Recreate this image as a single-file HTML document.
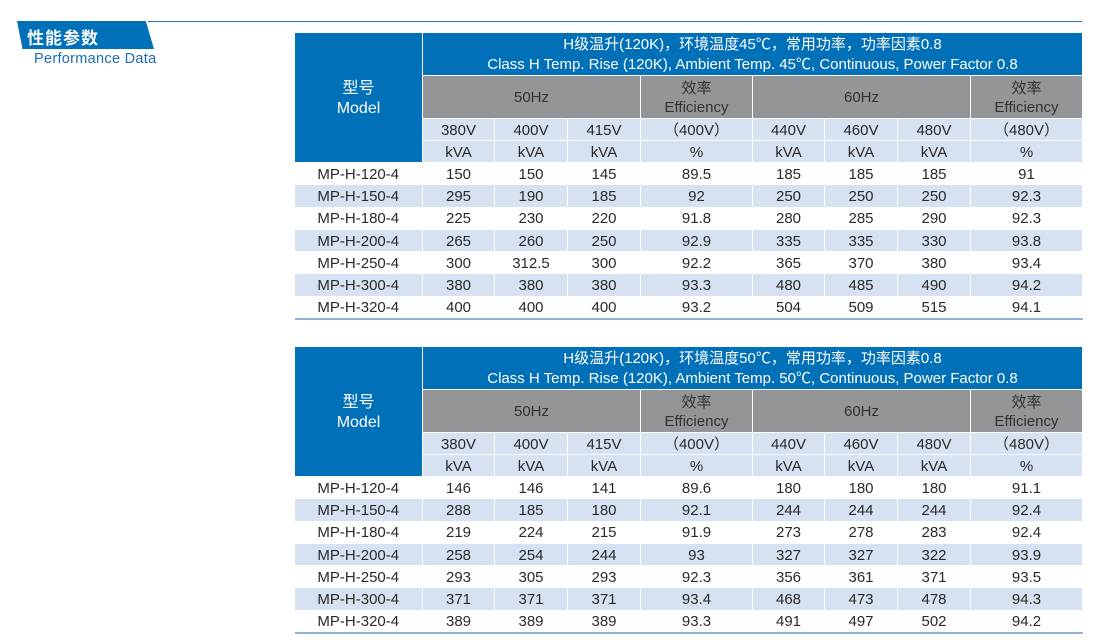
<!DOCTYPE html>
<html><head><meta charset="utf-8"><style>
body{margin:0;width:1103px;height:640px;background:#fff;position:relative;overflow:hidden;font-family:"Liberation Sans","Noto Sans CJK SC",sans-serif;}
.line{position:absolute;left:148px;top:21px;width:934px;height:1px;background:#2a6fb0;}
.badge{position:absolute;left:17px;top:21px;width:137px;height:28px;background:#0070b8;clip-path:polygon(0 0,94% 0,100% 100%,4% 100%);}
.bt{position:absolute;left:27px;top:24px;color:#fff;font-size:17px;font-weight:bold;letter-spacing:1px;}
.sub{position:absolute;left:34px;top:51px;color:#1a6db5;font-size:14.5px;letter-spacing:0.3px;}
table{position:absolute;left:294px;border-collapse:collapse;table-layout:fixed;width:788px;font-size:15px;color:#2a2a2a;}
td{text-align:center;padding:2px 0 0 0;border:1px solid #fff;line-height:16px;overflow:hidden;white-space:nowrap;box-sizing:border-box;}
.b{background:#0070b8;color:#fff;}
.g{background:#939598;color:#333;}
.l{background:#d6e1f1;}
.w{background:#fff;}
tr.r td{height:22.3px;}
tr.r td:first-child{border-left:none;}
table tr:last-child td{border-bottom:2px solid #8fb2d8;}
</style></head><body>
<div class="line"></div>
<div class="badge"></div><div class="bt">性能参数</div>
<div class="sub">Performance Data</div>

<table style="top:32px">
<colgroup><col style="width:128px"><col style="width:72px"><col style="width:73px"><col style="width:73px"><col style="width:112px"><col style="width:72px"><col style="width:73px"><col style="width:73px"><col style="width:112px"></colgroup>
<tr><td class="b" rowspan="4" style="font-size:16px;line-height:20px">型号<br>Model</td><td class="b" colspan="8" style="height:42px;line-height:20px">H级温升(120K)，环境温度45℃，常用功率，功率因素0.8<br>Class H Temp. Rise (120K), Ambient Temp. 45℃, Continuous, Power Factor 0.8</td></tr>
<tr><td class="g" colspan="3" style="height:43px">50Hz</td><td class="g" style="line-height:19px">效率<br>Efficiency</td><td class="g" colspan="3">60Hz</td><td class="g" style="line-height:19px">效率<br>Efficiency</td></tr>
<tr class="l"><td style="height:22px">380V</td><td>400V</td><td>415V</td><td>（400V）</td><td>440V</td><td>460V</td><td>480V</td><td>（480V）</td></tr>
<tr class="l"><td style="height:22px">kVA</td><td>kVA</td><td>kVA</td><td>%</td><td>kVA</td><td>kVA</td><td>kVA</td><td>%</td></tr>
<tr class="r w"><td>MP-H-120-4</td><td>150</td><td>150</td><td>145</td><td>89.5</td><td>185</td><td>185</td><td>185</td><td>91</td></tr>
<tr class="r l"><td>MP-H-150-4</td><td>295</td><td>190</td><td>185</td><td>92</td><td>250</td><td>250</td><td>250</td><td>92.3</td></tr>
<tr class="r w"><td>MP-H-180-4</td><td>225</td><td>230</td><td>220</td><td>91.8</td><td>280</td><td>285</td><td>290</td><td>92.3</td></tr>
<tr class="r l"><td>MP-H-200-4</td><td>265</td><td>260</td><td>250</td><td>92.9</td><td>335</td><td>335</td><td>330</td><td>93.8</td></tr>
<tr class="r w"><td>MP-H-250-4</td><td>300</td><td>312.5</td><td>300</td><td>92.2</td><td>365</td><td>370</td><td>380</td><td>93.4</td></tr>
<tr class="r l"><td>MP-H-300-4</td><td>380</td><td>380</td><td>380</td><td>93.3</td><td>480</td><td>485</td><td>490</td><td>94.2</td></tr>
<tr class="r w"><td>MP-H-320-4</td><td>400</td><td>400</td><td>400</td><td>93.2</td><td>504</td><td>509</td><td>515</td><td>94.1</td></tr>
</table>

<table style="top:346px">
<colgroup><col style="width:128px"><col style="width:72px"><col style="width:73px"><col style="width:73px"><col style="width:112px"><col style="width:72px"><col style="width:73px"><col style="width:73px"><col style="width:112px"></colgroup>
<tr><td class="b" rowspan="4" style="font-size:16px;line-height:20px">型号<br>Model</td><td class="b" colspan="8" style="height:42px;line-height:20px">H级温升(120K)，环境温度50℃，常用功率，功率因素0.8<br>Class H Temp. Rise (120K), Ambient Temp. 50℃, Continuous, Power Factor 0.8</td></tr>
<tr><td class="g" colspan="3" style="height:43px">50Hz</td><td class="g" style="line-height:19px">效率<br>Efficiency</td><td class="g" colspan="3">60Hz</td><td class="g" style="line-height:19px">效率<br>Efficiency</td></tr>
<tr class="l"><td style="height:22px">380V</td><td>400V</td><td>415V</td><td>（400V）</td><td>440V</td><td>460V</td><td>480V</td><td>（480V）</td></tr>
<tr class="l"><td style="height:22px">kVA</td><td>kVA</td><td>kVA</td><td>%</td><td>kVA</td><td>kVA</td><td>kVA</td><td>%</td></tr>
<tr class="r w"><td>MP-H-120-4</td><td>146</td><td>146</td><td>141</td><td>89.6</td><td>180</td><td>180</td><td>180</td><td>91.1</td></tr>
<tr class="r l"><td>MP-H-150-4</td><td>288</td><td>185</td><td>180</td><td>92.1</td><td>244</td><td>244</td><td>244</td><td>92.4</td></tr>
<tr class="r w"><td>MP-H-180-4</td><td>219</td><td>224</td><td>215</td><td>91.9</td><td>273</td><td>278</td><td>283</td><td>92.4</td></tr>
<tr class="r l"><td>MP-H-200-4</td><td>258</td><td>254</td><td>244</td><td>93</td><td>327</td><td>327</td><td>322</td><td>93.9</td></tr>
<tr class="r w"><td>MP-H-250-4</td><td>293</td><td>305</td><td>293</td><td>92.3</td><td>356</td><td>361</td><td>371</td><td>93.5</td></tr>
<tr class="r l"><td>MP-H-300-4</td><td>371</td><td>371</td><td>371</td><td>93.4</td><td>468</td><td>473</td><td>478</td><td>94.3</td></tr>
<tr class="r w"><td>MP-H-320-4</td><td>389</td><td>389</td><td>389</td><td>93.3</td><td>491</td><td>497</td><td>502</td><td>94.2</td></tr>
</table>
</body></html>
